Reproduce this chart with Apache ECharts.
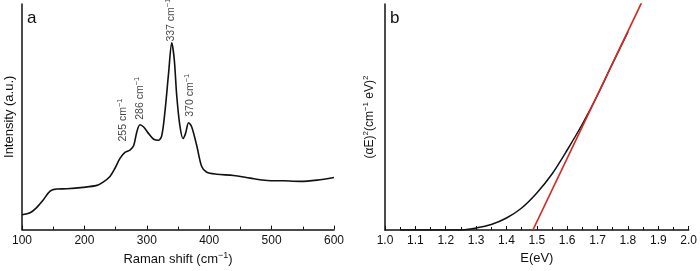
<!DOCTYPE html>
<html>
<head>
<meta charset="utf-8">
<script src="https://cdn.jsdelivr.net/npm/echarts@6/dist/echarts.min.js"></script>
<style>
  html, body { margin: 0; padding: 0; background: #fff; }
  #chart { width: 700px; height: 271px; }
</style>
</head>
<body>
<div id="chart"></div>
<script>
// panel a: Raman spectrum
var ramanX = [100, 113, 123, 134, 145, 156, 172, 198, 220, 230, 241, 249, 257, 265, 273, 279, 284, 289, 295, 303, 311, 319, 324, 329, 335, 340, 344, 348, 353, 358, 362, 367, 372, 380, 388, 396, 412, 439, 466, 493, 519, 546, 573, 600];
var ramanY = [15, 17, 22, 30, 39, 41, 41.3, 42.7, 44.7, 48, 53.7, 62, 72, 78, 80.3, 85, 98.7, 106, 103.7, 97, 91.3, 90.3, 95, 118.7, 158.7, 188.7, 172, 135, 105, 92, 97, 108, 103.7, 85, 63.7, 58, 56, 54.7, 52, 49.7, 49.3, 48.7, 50, 52.7];
var peakLabels = ['255', '286', '337', '370'];
var peakX = [262, 289, 339, 369];
var peakY = [89, 111, 190, 114];

// panel b: Tauc plot
var energyX = [1.05, 1.1, 1.15, 1.2, 1.25, 1.3, 1.35, 1.4, 1.45, 1.5, 1.55, 1.6, 1.65, 1.7, 1.75, 1.8];
var absY = [0, 0, 0, 0, 0, 2, 5.5, 12, 22, 37, 56, 80, 106, 135, 167, 198];
var fitX = [1.487, 1.865];
var fitY = [0, 240];

var font = 'Liberation Sans, Arial, sans-serif';
var chart = echarts.init(document.getElementById('chart'));

function pairs(xs, ys) {
  return xs.map(function (x, i) { return [x, ys[i]]; });
}

var supRich = {
  n: { fontSize: 10.5, fontFamily: font, color: '#111' },
  s: { fontSize: 7.5, fontFamily: font, color: '#111', padding: [0, 0, 6, 0] }
};

var option = {
  animation: false,
  backgroundColor: '#fff',
  textStyle: { fontFamily: font },
  grid: [
    { left: 22, right: 366, top: 4, bottom: 39 },
    { left: 385, right: 7, top: 4, bottom: 41 }
  ],
  xAxis: [
    {
      gridIndex: 0, type: 'value', min: 100, max: 600, interval: 100,
      axisLine: { lineStyle: { color: '#111', width: 1.5 } },
      axisTick: { show: true, inside: true, length: 4, lineStyle: { color: '#111' } },
      minorTick: { show: true, splitNumber: 2, length: 3, lineStyle: { color: '#111' } },
      axisLabel: { color: '#111', fontSize: 12, fontFamily: font, margin: 5 },
      splitLine: { show: false },
      name: '{n|Raman shift (cm}{s|\u22121}{n|)}',
      nameLocation: 'middle', nameGap: 19,
      nameTextStyle: { rich: { n: { fontSize: 13, fontFamily: font, color: '#111' }, s: { fontSize: 9, fontFamily: font, color: '#111', padding: [0, 0, 7, 0] } } }
    },
    {
      gridIndex: 1, type: 'value', min: 1.0, max: 2.0, interval: 0.1,
      axisLine: { lineStyle: { color: '#111', width: 1.5 } },
      axisTick: { show: true, inside: true, length: 4, lineStyle: { color: '#111' } },
      minorTick: { show: true, splitNumber: 2, length: 3, lineStyle: { color: '#111' } },
      axisLabel: { color: '#111', fontSize: 12, fontFamily: font, margin: 5, formatter: function (v) { return v.toFixed(1); } },
      splitLine: { show: false },
      name: 'E(eV)', nameLocation: 'middle', nameGap: 21,
      nameTextStyle: { fontSize: 13, fontFamily: font, color: '#111' }
    }
  ],
  yAxis: [
    {
      gridIndex: 0, type: 'value', min: 0, max: 228,
      axisLine: { show: true, lineStyle: { color: '#111', width: 1.5 } },
      axisTick: { show: false }, axisLabel: { show: false }, splitLine: { show: false },
      name: 'Intensity (a.u.)', nameLocation: 'middle', nameGap: 6, nameRotate: 90,
      nameTextStyle: { fontSize: 13, fontFamily: font, color: '#111' }
    },
    {
      gridIndex: 1, type: 'value', min: 0, max: 226,
      axisLine: { show: true, lineStyle: { color: '#111', width: 1.5 } },
      axisTick: { show: false }, axisLabel: { show: false }, splitLine: { show: false },
      name: '{n|(\u03b1E)}{s|2}{n|(cm}{s|\u22121}{n| eV)}{s|2}', nameLocation: 'middle', nameGap: 8, nameRotate: 90,
      nameTextStyle: { rich: { n: { fontSize: 12, fontFamily: font, color: '#111' }, s: { fontSize: 8, fontFamily: font, color: '#111', padding: [0, 0, 7, 0] } } }
    }
  ],
  graphic: [
    { type: 'text', left: 27, top: 10, style: { text: 'a', fontSize: 17, fontFamily: font, fill: '#111' } },
    { type: 'text', left: 390, top: 10, style: { text: 'b', fontSize: 17, fontFamily: font, fill: '#111' } }
  ],
  series: [
    {
      type: 'line', xAxisIndex: 0, yAxisIndex: 0, data: pairs(ramanX, ramanY),
      showSymbol: false, smooth: 0.3, lineStyle: { color: '#111', width: 1.6 }
    },
    {
      type: 'scatter', xAxisIndex: 0, yAxisIndex: 0, symbolSize: 0,
      data: peakX.map(function (x, i) { return [x, peakY[i], peakLabels[i]]; }),
      label: {
        show: true, position: 'inside', rotate: 90, align: 'left', verticalAlign: 'middle',
        formatter: function (p) { return '{n|' + p.data[2] + ' cm}{s|\u22121}'; },
        rich: supRich
      }
    },
    {
      type: 'line', xAxisIndex: 1, yAxisIndex: 1, data: pairs(energyX, absY),
      showSymbol: false, smooth: 0.3, lineStyle: { color: '#111', width: 1.5 }
    },
    {
      type: 'line', xAxisIndex: 1, yAxisIndex: 1, data: pairs(fitX, fitY),
      showSymbol: false, clip: true, lineStyle: { color: '#d42a25', width: 1.7 }
    }
  ]
};
chart.setOption(option);
</script>
</body>
</html>
